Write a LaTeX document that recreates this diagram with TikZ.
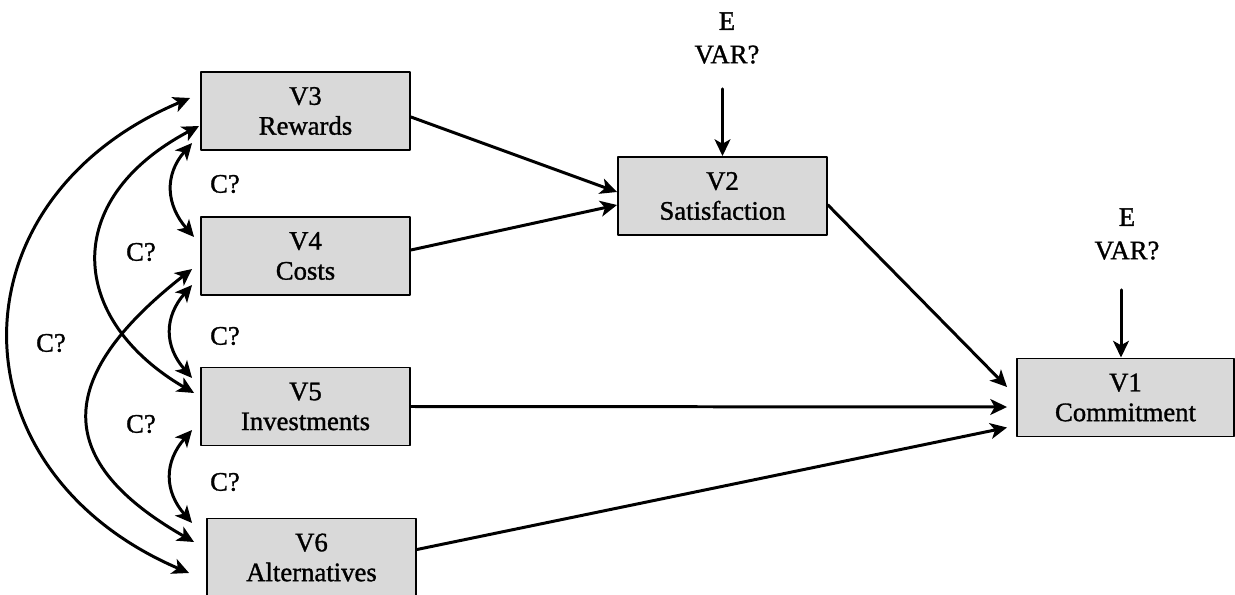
\documentclass[tikz,border=0pt]{standalone}
\usepackage{fontspec}
\setmainfont{Liberation Serif}
\newfontfamily\semfont{Liberation Serif}[FakeBold=1.2]
\usetikzlibrary{arrows.meta}

\begin{document}
\begin{tikzpicture}[x=0.02cm,y=-0.02cm,line cap=round,line join=round,
  >={Stealth[length=9.5pt,width=9pt,inset=2.5pt]},
  every node/.style={font=\semfont\fontsize{15.2}{17}\selectfont,align=center,inner sep=0pt},
  var/.style={draw,fill=black!15,line width=1.1pt,minimum width=4.18cm,minimum height=1.56cm},
  link/.style={->,line width=1.7pt},
  corr/.style={<->,line width=1.7pt}]
  \useasboundingbox (0,0) rectangle (1235,595);
  \node[var] (v3) at (305.5,111) {V3\\Rewards};
  \node[var] (v4) at (305.5,256) {V4\\Costs};
  \node[var] (v5) at (305.5,406.5) {V5\\Investments};
  \node[var] (v6) at (311.5,557.5) {V6\\Alternatives};
  \node[var] (v2) at (722.5,196) {V2\\Satisfaction};
  \node[var,minimum width=4.34cm] (v1) at (1125.5,397.5) {V1\\Commitment};
  \node (e2) at (727,38) {E\\[2pt]VAR?};
  \node (e1) at (1127,234) {E\\[2pt]VAR?};
  \node (c34) at (225,184) {C?};
  \node (c45) at (225,336) {C?};
  \node (c56) at (225,482) {C?};
  \node (c35) at (141,252) {C?};
  \node (c46) at (141,424) {C?};
  \node (c36) at (51,343) {C?};
  \draw[link,shorten <=0.5cm] (e2.south -| v2.north) -- (v2.north);
  \draw[link,shorten <=0.6cm] ([xshift=-0.12cm]e1.south) -- ([xshift=-0.12cm]e1.south |- v1.north);
  \draw[link] ([yshift=-0.12cm]v3.east) -- ([yshift=0.08cm]v2.west);
  \draw[link] ([yshift=0.12cm]v4.east) -- ([yshift=-0.18cm]v2.west);
  \draw[link] ([yshift=-0.18cm]v2.east) -- ([shift={(-9,-10.5)}]v1.west);
  \draw[link] (v5.east) -- ([shift={(-9,9.5)}]v1.west);
  \draw[link] ([shift={(0,-8)}]v6.east) -- ([shift={(-9,30)}]v1.west);
  \draw[corr] ([shift={(-8,32)}]v3.west) .. controls +(-28,32) and +(-28,-32) .. ([shift={(-6,-19)}]v4.west);
  \draw[corr] ([shift={(-8,29)}]v4.west) .. controls +(-28,32) and +(-28,-32) .. ([shift={(-8,-28.5)}]v5.west);
  \draw[corr] ([shift={(-8,23.5)}]v5.west) .. controls +(-28,32) and +(-28,-32) .. ([shift={(-14,-34.5)}]v6.west);
  \draw[corr] ([shift={(-1,15)}]v3.west) .. controls +(-140,74) and +(-125,-73) .. ([shift={(-6,-13.5)}]v5.west);
  \draw[corr] ([shift={(-8,13)}]v4.west) .. controls +(-140,110) and +(-140,-80) .. ([shift={(-12,-15.5)}]v6.west);
  \draw[corr] ([shift={(-10,-13)}]v3.west) .. controls +(-241,102) and +(-240,-103) .. ([shift={(-17,15.5)}]v6.west);
\end{tikzpicture}
\end{document}
